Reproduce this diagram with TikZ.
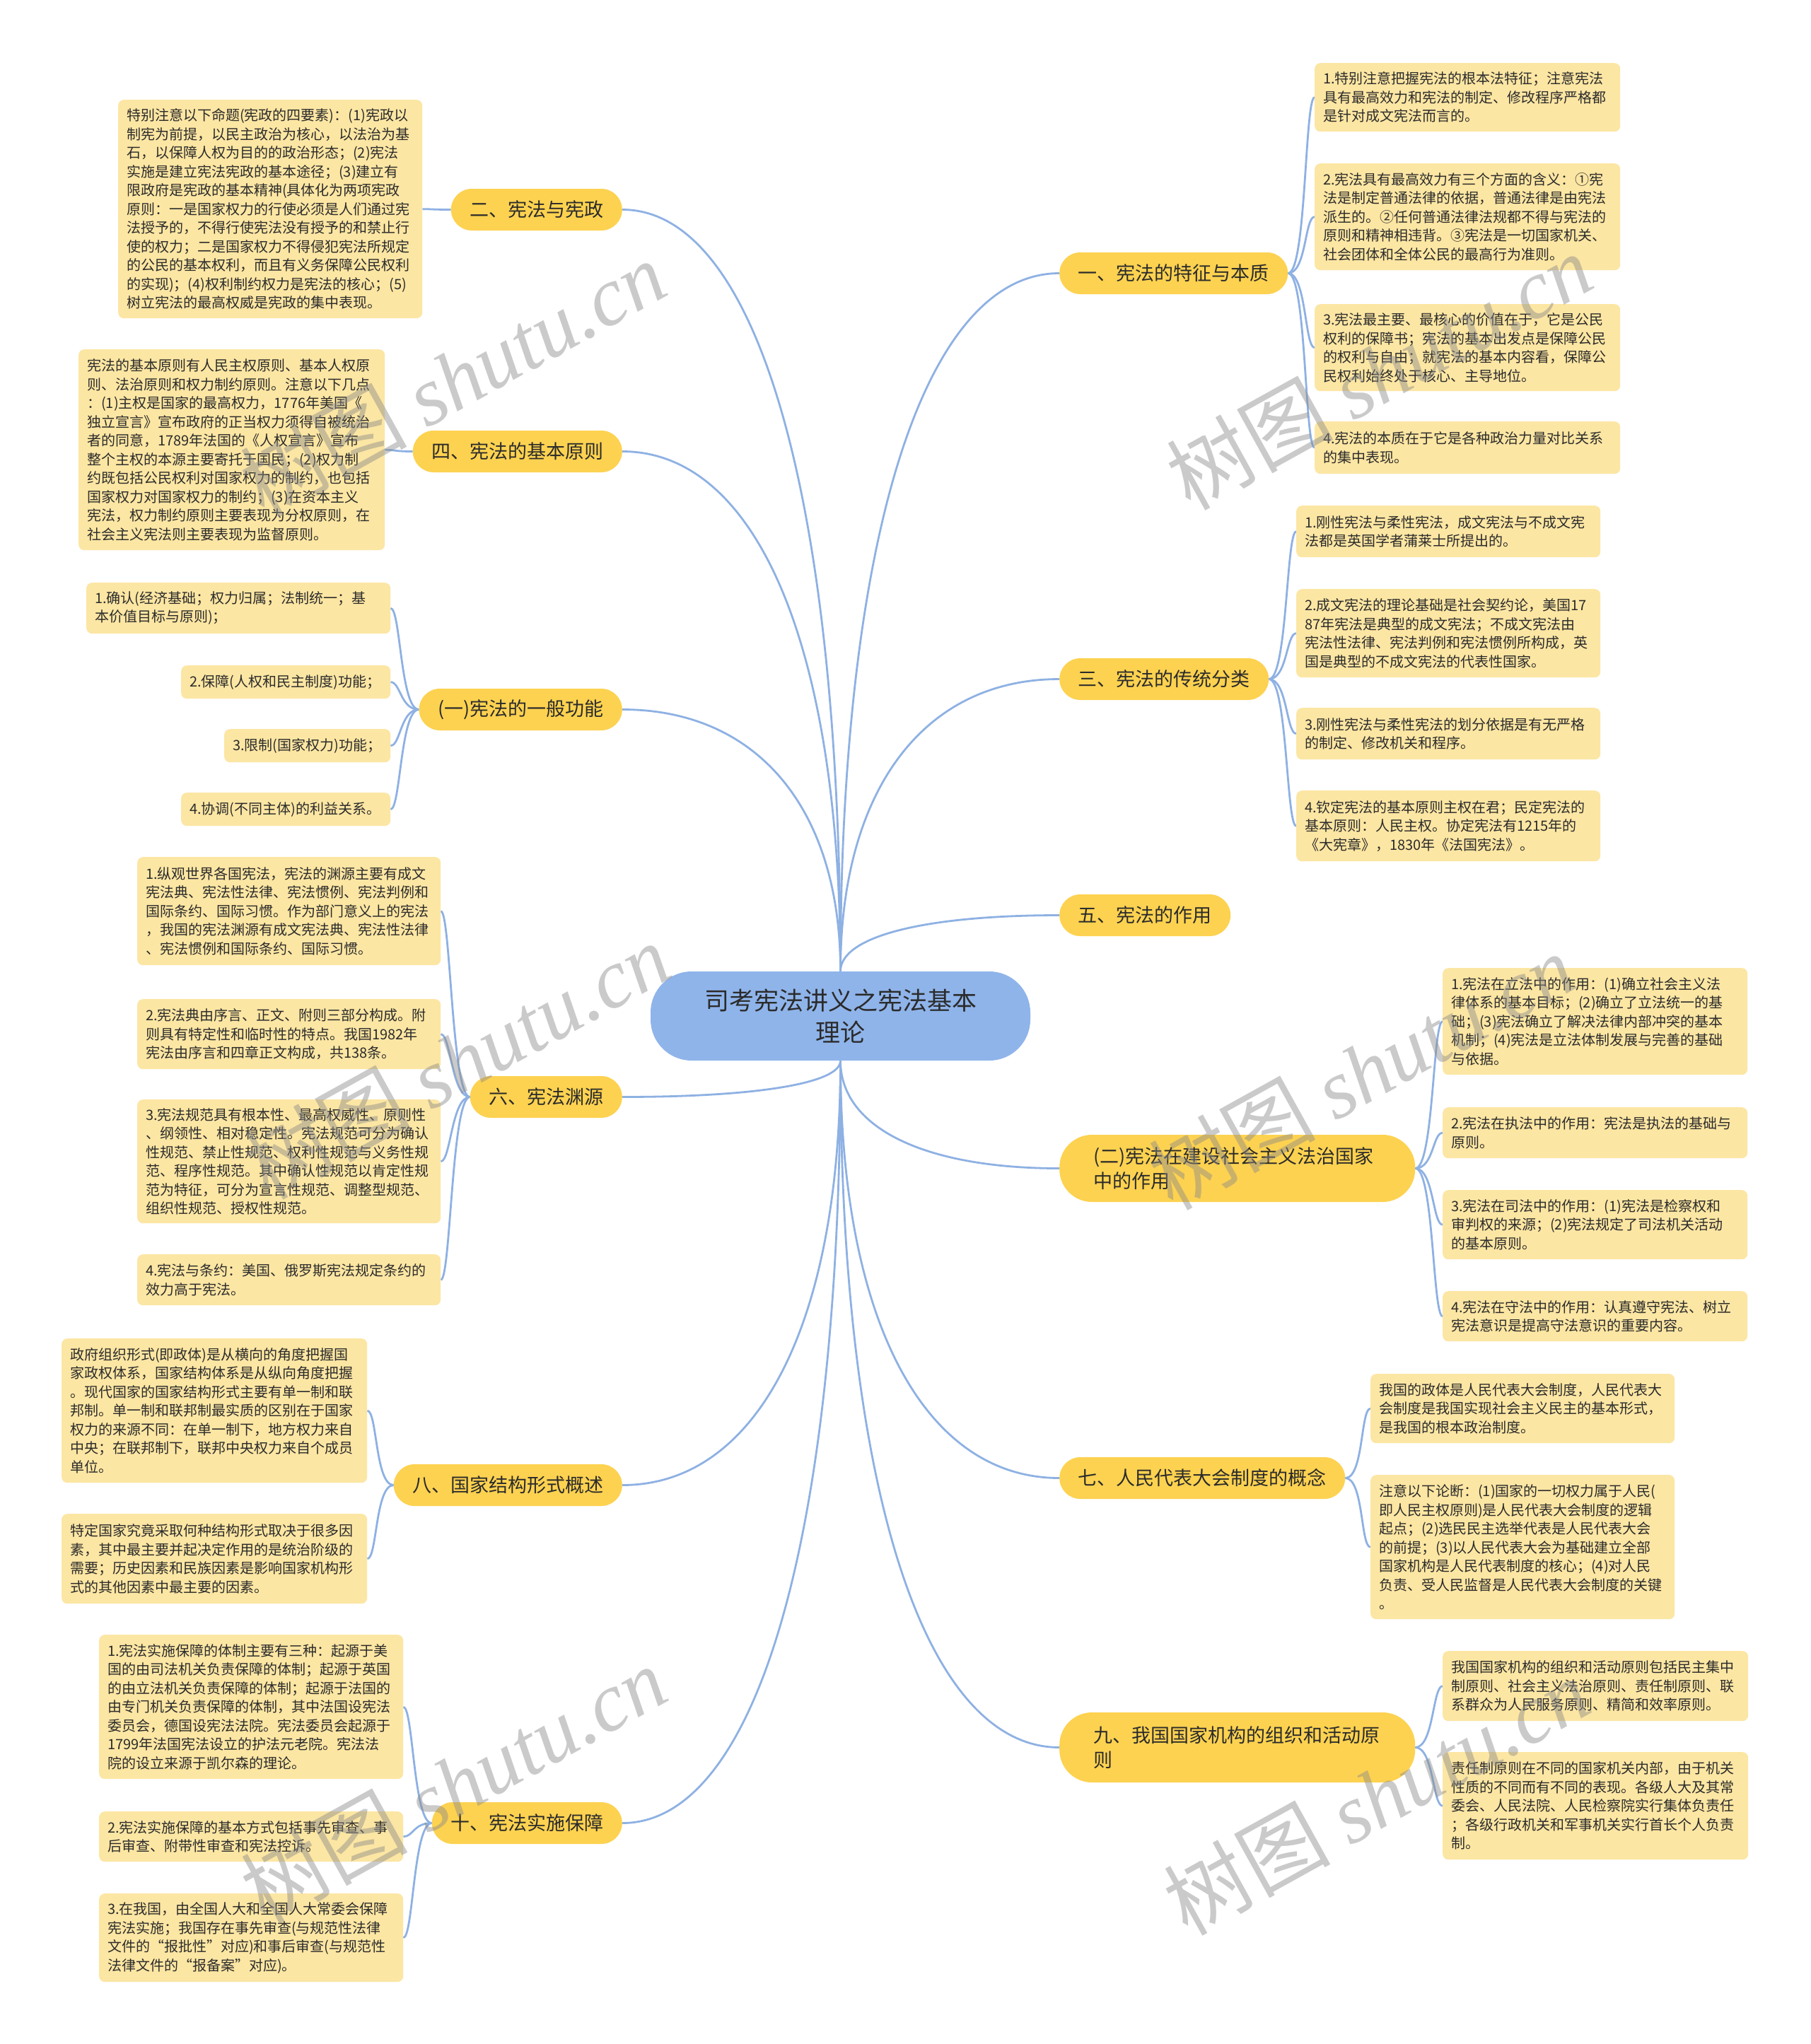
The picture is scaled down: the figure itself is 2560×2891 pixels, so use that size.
\documentclass[tikz,border=0pt]{standalone}
\usepackage{fontspec}
\setmainfont{Noto Sans CJK SC}
\newfontfamily\wmserif{Liberation Serif}
\usetikzlibrary{calc}
\definecolor{linec}{HTML}{8EB1E3}
\definecolor{centerc}{HTML}{8FB4EA}
\definecolor{mainc}{HTML}{FDD250}
\definecolor{leafc}{HTML}{FCE6A3}
\definecolor{txtc}{HTML}{2B2B2B}
\definecolor{wmc}{HTML}{8A8A8A}
\pgfdeclarelayer{bg}
\pgfsetlayers{bg,main}
\newcommand\mmhub[2]{\draw[conn] (#1) .. controls ($(#1)!0.62!(#1 |- #2)$) and ($(#2)!0.62!(#1 |- #2)$) .. (#2);}
\newcommand\mmleft[2]{\draw[conn] (#1.west) .. controls +(-26,0) and +(14,0) .. (#2.east);}
\newcommand\mmright[2]{\draw[conn] (#1.east) .. controls +(26,0) and +(-14,0) .. (#2.west);}
\begin{document}
\begin{tikzpicture}[x=1pt,y=-1pt,
  leaf/.style={fill=leafc, rounded corners=8pt, inner xsep=12pt, inner ysep=0pt, align=left,
    font=\fontsize{20}{26.5}\selectfont, text=txtc, anchor=north west},
  mainnode/.style={fill=mainc, rounded corners=29.5pt, minimum height=59pt, inner xsep=26.5pt,
    inner ysep=0pt, font=\fontsize{27}{34}\selectfont, text=txtc},
  maintwo/.style={fill=mainc, rounded corners=46pt, inner xsep=48pt, inner ysep=0pt, text width=407pt,
    align=left, font=\fontsize{27}{35}\selectfont, text=txtc, anchor=west},
  centerbox/.style={fill=centerc, rounded corners=58pt, minimum width=537pt, minimum height=126pt,
    inner sep=0pt, align=center, font=\fontsize{35}{45}\selectfont, text=txtc},
  conn/.style={draw=linec, line width=2.8pt},
  wm/.style={text=wmc, text opacity=0.45, font=\fontsize{118}{118}\selectfont, inner sep=0pt}]
\begin{pgfonlayer}{bg}
\fill[white] (0,0) rectangle (2560,2891);
\end{pgfonlayer}
\useasboundingbox (0,0) rectangle (2560,2891);

% center
\node[centerbox] (c) at (1188.5,1437) {司考宪法讲义之宪法基本\\理论};

% main nodes left
\node[mainnode, anchor=east] (m2) at (880,296.5) {二、宪法与宪政};
\node[mainnode, anchor=east] (m4) at (880,638.5) {四、宪法的基本原则};
\node[mainnode, anchor=east] (mg1) at (880,1003.5) {(一)宪法的一般功能};
\node[mainnode, anchor=east] (m6) at (880,1551.5) {六、宪法渊源};
\node[mainnode, anchor=east] (m8) at (880,2100.5) {八、国家结构形式概述};
\node[mainnode, anchor=east] (m10) at (880,2578.5) {十、宪法实施保障};
% main nodes right
\node[mainnode, anchor=west] (m1) at (1498,386.5) {一、宪法的特征与本质};
\node[mainnode, anchor=west] (m3) at (1498,960.5) {三、宪法的传统分类};
\node[mainnode, anchor=west] (m5) at (1498,1294.5) {五、宪法的作用};
\node[maintwo, minimum height=95pt] (mg2) at (1498,1652.5) {(二)宪法在建设社会主义法治国家\\中的作用};
\node[mainnode, anchor=west] (m7) at (1498,2090.5) {七、人民代表大会制度的概念};
\node[maintwo, minimum height=99pt] (m9) at (1498,2471.5) {九、我国国家机构的组织和活动原\\则};

% left leaves
\node[leaf, text width=406pt, minimum height=309pt] (L2a) at (167,141) {特别注意以下命题(宪政的四要素)：(1)宪政以\\制宪为前提，以民主政治为核心，以法治为基\\石，以保障人权为目的的政治形态；(2)宪法\\实施是建立宪法宪政的基本途径；(3)建立有\\限政府是宪政的基本精神(具体化为两项宪政\\原则：一是国家权力的行使必须是人们通过宪\\法授予的，不得行使宪法没有授予的和禁止行\\使的权力；二是国家权力不得侵犯宪法所规定\\的公民的基本权利，而且有义务保障公民权利\\的实现)；(4)权利制约权力是宪法的核心；(5)\\树立宪法的最高权威是宪政的集中表现。};
\node[leaf, text width=409pt, minimum height=284pt] (L4a) at (111,494) {宪法的基本原则有人民主权原则、基本人权原\\则、法治原则和权力制约原则。注意以下几点\\：(1)主权是国家的最高权力，1776年美国《\\独立宣言》宣布政府的正当权力须得自被统治\\者的同意，1789年法国的《人权宣言》宣布\\整个主权的本源主要寄托于国民；(2)权力制\\约既包括公民权利对国家权力的制约，也包括\\国家权力对国家权力的制约；(3)在资本主义\\宪法，权力制约原则主要表现为分权原则，在\\社会主义宪法则主要表现为监督原则。};
\node[leaf, text width=406pt, minimum height=72pt] (Lg1a) at (122,824) {1.确认(经济基础；权力归属；法制统一；基\\本价值目标与原则)；};
\node[leaf, text width=272pt, minimum height=47pt] (Lg1b) at (256,941) {2.保障(人权和民主制度)功能；};
\node[leaf, text width=211pt, minimum height=47pt] (Lg1c) at (317,1031) {3.限制(国家权力)功能；};
\node[leaf, text width=272pt, minimum height=47pt] (Lg1d) at (256,1121) {4.协调(不同主体)的利益关系。};
\node[leaf, text width=405pt, minimum height=153pt] (L6a) at (194,1212) {1.纵观世界各国宪法，宪法的渊源主要有成文\\宪法典、宪法性法律、宪法惯例、宪法判例和\\国际条约、国际习惯。作为部门意义上的宪法\\，我国的宪法渊源有成文宪法典、宪法性法律\\、宪法惯例和国际条约、国际习惯。};
\node[leaf, text width=405pt, minimum height=99pt] (L6b) at (194,1413) {2.宪法典由序言、正文、附则三部分构成。附\\则具有特定性和临时性的特点。我国1982年\\宪法由序言和四章正文构成，共138条。};
\node[leaf, text width=405pt, minimum height=175pt] (L6c) at (194,1555) {3.宪法规范具有根本性、最高权威性、原则性\\、纲领性、相对稳定性。宪法规范可分为确认\\性规范、禁止性规范、权利性规范与义务性规\\范、程序性规范。其中确认性规范以肯定性规\\范为特征，可分为宣言性规范、调整型规范、\\组织性规范、授权性规范。};
\node[leaf, text width=405pt, minimum height=72pt] (L6d) at (194,1774) {4.宪法与条约：美国、俄罗斯宪法规定条约的\\效力高于宪法。};
\node[leaf, text width=408pt, minimum height=204pt] (L8a) at (87,1893) {政府组织形式(即政体)是从横向的角度把握国\\家政权体系，国家结构体系是从纵向角度把握\\。现代国家的国家结构形式主要有单一制和联\\邦制。单一制和联邦制最实质的区别在于国家\\权力的来源不同：在单一制下，地方权力来自\\中央；在联邦制下，联邦中央权力来自个成员\\单位。};
\node[leaf, text width=408pt, minimum height=127pt] (L8b) at (87,2141) {特定国家究竟采取何种结构形式取决于很多因\\素，其中最主要并起决定作用的是统治阶级的\\需要；历史因素和民族因素是影响国家机构形\\式的其他因素中最主要的因素。};
\node[leaf, text width=406pt, minimum height=204pt] (L10a) at (140,2312) {1.宪法实施保障的体制主要有三种：起源于美\\国的由司法机关负责保障的体制；起源于英国\\的由立法机关负责保障的体制；起源于法国的\\由专门机关负责保障的体制，其中法国设宪法\\委员会，德国设宪法法院。宪法委员会起源于\\1799年法国宪法设立的护法元老院。宪法法\\院的设立来源于凯尔森的理论。};
\node[leaf, text width=406pt, minimum height=71pt] (L10b) at (140,2562) {2.宪法实施保障的基本方式包括事先审查、事\\后审查、附带性审查和宪法控诉。};
\node[leaf, text width=406pt, minimum height=125pt] (L10c) at (140,2678) {3.在我国，由全国人大和全国人大常委会保障\\宪法实施；我国存在事先审查(与规范性法律\\文件的“报批性”对应)和事后审查(与规范性\\法律文件的“报备案”对应)。};

% right leaves
\node[leaf, text width=408pt, minimum height=97pt] (R1a) at (1859,89) {1.特别注意把握宪法的根本法特征；注意宪法\\具有最高效力和宪法的制定、修改程序严格都\\是针对成文宪法而言的。};
\node[leaf, text width=408pt, minimum height=151pt] (R1b) at (1859,231) {2.宪法具有最高效力有三个方面的含义：①宪\\法是制定普通法律的依据，普通法律是由宪法\\派生的。②任何普通法律法规都不得与宪法的\\原则和精神相违背。③宪法是一切国家机关、\\社会团体和全体公民的最高行为准则。};
\node[leaf, text width=408pt, minimum height=123pt] (R1c) at (1859,430) {3.宪法最主要、最核心的价值在于，它是公民\\权利的保障书；宪法的基本出发点是保障公民\\的权利与自由；就宪法的基本内容看，保障公\\民权利始终处于核心、主导地位。};
\node[leaf, text width=408pt, minimum height=74pt] (R1d) at (1859,596) {4.宪法的本质在于它是各种政治力量对比关系\\的集中表现。};
\node[leaf, text width=406pt, minimum height=73pt] (R3a) at (1833,715) {1.刚性宪法与柔性宪法，成文宪法与不成文宪\\法都是英国学者蒲莱士所提出的。};
\node[leaf, text width=406pt, minimum height=125pt] (R3b) at (1833,833) {2.成文宪法的理论基础是社会契约论，美国17\\87年宪法是典型的成文宪法；不成文宪法由\\宪法性法律、宪法判例和宪法惯例所构成，英\\国是典型的不成文宪法的代表性国家。};
\node[leaf, text width=406pt, minimum height=73pt] (R3c) at (1833,1001) {3.刚性宪法与柔性宪法的划分依据是有无严格\\的制定、修改机关和程序。};
\node[leaf, text width=406pt, minimum height=100pt] (R3d) at (1833,1118) {4.钦定宪法的基本原则主权在君；民定宪法的\\基本原则：人民主权。协定宪法有1215年的\\《大宪章》，1830年《法国宪法》。};
\node[leaf, text width=407pt, minimum height=151pt] (Rg2a) at (2040,1369) {1.宪法在立法中的作用：(1)确立社会主义法\\律体系的基本目标；(2)确立了立法统一的基\\础；(3)宪法确立了解决法律内部冲突的基本\\机制；(4)宪法是立法体制发展与完善的基础\\与依据。};
\node[leaf, text width=407pt, minimum height=72pt] (Rg2b) at (2040,1566) {2.宪法在执法中的作用：宪法是执法的基础与\\原则。};
\node[leaf, text width=407pt, minimum height=98pt] (Rg2c) at (2040,1683) {3.宪法在司法中的作用：(1)宪法是检察权和\\审判权的来源；(2)宪法规定了司法机关活动\\的基本原则。};
\node[leaf, text width=407pt, minimum height=71pt] (Rg2d) at (2040,1826) {4.宪法在守法中的作用：认真遵守宪法、树立\\宪法意识是提高守法意识的重要内容。};
\node[leaf, text width=406pt, minimum height=98pt] (R7a) at (1938,1943) {我国的政体是人民代表大会制度，人民代表大\\会制度是我国实现社会主义民主的基本形式，\\是我国的根本政治制度。};
\node[leaf, text width=406pt, minimum height=204pt] (R7b) at (1938,2086) {注意以下论断：(1)国家的一切权力属于人民(\\即人民主权原则)是人民代表大会制度的逻辑\\起点；(2)选民民主选举代表是人民代表大会\\的前提；(3)以人民代表大会为基础建立全部\\国家机构是人民代表制度的核心；(4)对人民\\负责、受人民监督是人民代表大会制度的关键\\。};
\node[leaf, text width=408pt, minimum height=99pt] (R9a) at (2040,2335) {我国国家机构的组织和活动原则包括民主集中\\制原则、社会主义法治原则、责任制原则、联\\系群众为人民服务原则、精简和效率原则。};
\node[leaf, text width=408pt, minimum height=152pt] (R9b) at (2040,2478) {责任制原则在不同的国家机关内部，由于机关\\性质的不同而有不同的表现。各级人大及其常\\委会、人民法院、人民检察院实行集体负责任\\；各级行政机关和军事机关实行首长个人负责\\制。};

% connectors
\begin{pgfonlayer}{bg}
\mmhub{c.north}{m2.east}
\mmhub{c.north}{m4.east}
\mmhub{c.north}{mg1.east}
\mmhub{c.north}{m1.west}
\mmhub{c.north}{m3.west}
\mmhub{c.north}{m5.west}
\mmhub{c.south}{m6.east}
\mmhub{c.south}{m8.east}
\mmhub{c.south}{m10.east}
\mmhub{c.south}{mg2.west}
\mmhub{c.south}{m7.west}
\mmhub{c.south}{m9.west}
\mmleft{m2}{L2a}
\mmleft{m4}{L4a}
\mmleft{mg1}{Lg1a}\mmleft{mg1}{Lg1b}\mmleft{mg1}{Lg1c}\mmleft{mg1}{Lg1d}
\mmleft{m6}{L6a}\mmleft{m6}{L6b}\mmleft{m6}{L6c}\mmleft{m6}{L6d}
\mmleft{m8}{L8a}\mmleft{m8}{L8b}
\mmleft{m10}{L10a}\mmleft{m10}{L10b}\mmleft{m10}{L10c}
\mmright{m1}{R1a}\mmright{m1}{R1b}\mmright{m1}{R1c}\mmright{m1}{R1d}
\mmright{m3}{R3a}\mmright{m3}{R3b}\mmright{m3}{R3c}\mmright{m3}{R3d}
\mmright{mg2}{Rg2a}\mmright{mg2}{Rg2b}\mmright{mg2}{Rg2c}\mmright{mg2}{Rg2d}
\mmright{m7}{R7a}\mmright{m7}{R7b}
\mmright{m9}{R9a}\mmright{m9}{R9b}
\end{pgfonlayer}

% watermarks
\node[wm, rotate=29] (w1) at (640,535) {树图 {\wmserif\itshape shutu.cn}};
\node[wm, rotate=29] (w2) at (1950,525) {树图 {\wmserif\itshape shutu.cn}};
\node[wm, rotate=29] (w3) at (646,1500) {树图 {\wmserif\itshape shutu.cn}};
\node[wm, rotate=29] (w4) at (1925,1515) {树图 {\wmserif\itshape shutu.cn}};
\node[wm, rotate=29] (w5) at (641,2523) {树图 {\wmserif\itshape shutu.cn}};
\node[wm, rotate=29] (w6) at (1946,2540) {树图 {\wmserif\itshape shutu.cn}};
\end{tikzpicture}
\end{document}
